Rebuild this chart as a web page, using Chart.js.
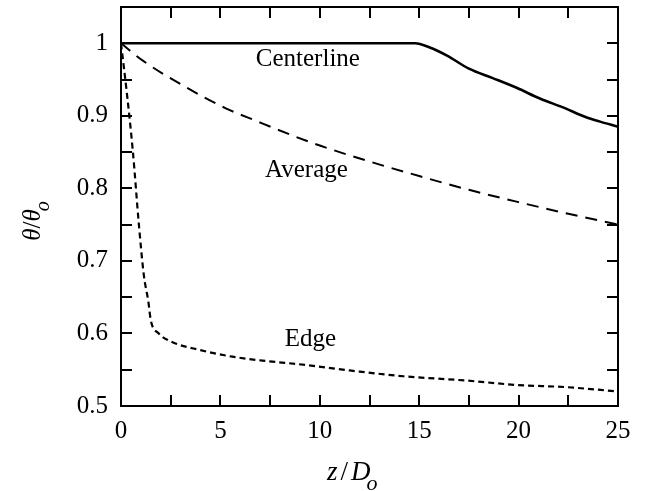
<!DOCTYPE html>
<html>
<head>
<meta charset="utf-8">
<script src="https://cdn.jsdelivr.net/npm/chart.js@4/dist/chart.umd.min.js"></script>
<style>
  html, body { margin: 0; padding: 0; background: #fff; }
  #c { display: block; }
</style>
</head>
<body>
<canvas id="c" width="645" height="491"></canvas>
<script>
// Dimensionless temperature theta/theta0 along the jet, z/Do
const centerlineZ     = [0, 5, 10, 14.0, 14.8, 15.5, 16.4, 17.5, 18.7, 19.9, 21.1, 22.2, 23.4, 24.1, 25];
const centerlineTheta = [1.0, 1.0, 1.0, 1.0, 1.0, 0.9945, 0.983, 0.965, 0.952, 0.9386, 0.9235, 0.912, 0.898, 0.892, 0.885];

const averageZ     = [0, 1.1, 3.1, 5.3, 6.8, 8.8, 10, 12.5, 15, 17.5, 20, 22.5, 25];
const averageTheta = [1.0, 0.976, 0.942, 0.910, 0.893, 0.871, 0.859, 0.837, 0.817, 0.798, 0.781, 0.765, 0.750];

const edgeZ     = [0, 0.3, 0.6, 0.9, 1.15, 1.37, 1.5, 1.9, 2.5, 4.0, 5.6, 7.3, 8.8, 11.5, 14.2, 17.4, 19.9, 22.4, 25];
const edgeTheta = [1.0, 0.93, 0.85, 0.75, 0.68, 0.645, 0.618, 0.600, 0.589, 0.577, 0.568, 0.562, 0.558, 0.549, 0.541, 0.535, 0.529, 0.526, 0.520];

// Tick labels shown on the axes
const xTickLabels = ['0', '5', '10', '15', '20', '25'];
const yTickLabels = ['0.5', '0.6', '0.7', '0.8', '0.9', '1'];

// Curve names written next to each curve
const curveNames = ['Centerline', 'Average', 'Edge'];
const curveNameAt = [[9.4, 0.978], [9.33, 0.8246], [9.53, 0.592]];

const pts = (xs, ys) => xs.map((x, i) => ({ x: x, y: ys[i] }));
const SERIF = '"Liberation Serif", "Times New Roman", serif';

// Frame, inward ticks on all four sides, curve names and axis titles
const decorations = {
  id: 'decorations',
  afterDraw(chart) {
    const { ctx, chartArea: a, scales: { x, y } } = chart;
    ctx.save();
    ctx.strokeStyle = '#000';
    ctx.lineWidth = 2;
    ctx.strokeRect(a.left, a.top, a.right - a.left, a.bottom - a.top);

    const len = 11;
    ctx.beginPath();
    for (let v = 2.5; v < 25; v += 2.5) {
      const px = Math.round(x.getPixelForValue(v));
      ctx.moveTo(px, a.bottom); ctx.lineTo(px, a.bottom - len);
      ctx.moveTo(px, a.top);    ctx.lineTo(px, a.top + len);
    }
    for (let k = 11; k <= 20; k++) {
      const py = Math.round(y.getPixelForValue(k * 0.05));
      ctx.moveTo(a.left, py);  ctx.lineTo(a.left + len, py);
      ctx.moveTo(a.right, py); ctx.lineTo(a.right - len, py);
    }
    ctx.stroke();

    // curve names
    ctx.fillStyle = '#000';
    ctx.font = '25px ' + SERIF;
    ctx.textAlign = 'center';
    ctx.textBaseline = 'middle';
    curveNames.forEach((name, i) => {
      ctx.fillText(name, x.getPixelForValue(curveNameAt[i][0]), y.getPixelForValue(curveNameAt[i][1]));
    });

    // x axis title: z / D_o
    ctx.textAlign = 'left';
    ctx.textBaseline = 'alphabetic';
    ctx.font = 'italic 27px ' + SERIF;
    let cx = 327, base = 480;
    ctx.fillText('z', cx, base);
    cx += ctx.measureText('z').width + 3;
    ctx.font = '27px ' + SERIF;
    ctx.fillText('/', cx, base);
    cx += ctx.measureText('/').width + 3;
    ctx.font = 'italic 27px ' + SERIF;
    ctx.fillText('D', cx, base);
    cx += ctx.measureText('D').width - 4;
    ctx.font = 'italic 22px ' + SERIF;
    ctx.fillText('o', cx, base + 10);

    // y axis title: theta / theta_o (rotated)
    ctx.save();
    ctx.translate(40, 221);
    ctx.rotate(-Math.PI / 2);
    ctx.font = 'italic 25px ' + SERIF;
    const w1 = ctx.measureText('θ').width;
    ctx.font = '25px ' + SERIF;
    const ws = ctx.measureText('/').width;
    ctx.font = 'italic 20px ' + SERIF;
    const wo = ctx.measureText('o').width;
    const total = w1 * 2 + ws + wo - 2;
    let tx = -total / 2;
    ctx.font = 'italic 25px ' + SERIF;
    ctx.fillText('θ', tx, 0); tx += w1;
    ctx.font = '25px ' + SERIF;
    ctx.fillText('/', tx, 0); tx += ws;
    ctx.font = 'italic 25px ' + SERIF;
    ctx.fillText('θ', tx, 0); tx += w1 - 2;
    ctx.font = 'italic 20px ' + SERIF;
    ctx.fillText('o', tx, 9);
    ctx.restore();

    ctx.restore();
  }
};

const whiteBg = {
  id: 'whiteBg',
  beforeDraw(chart) {
    const ctx = chart.ctx;
    ctx.save();
    ctx.fillStyle = '#fff';
    ctx.fillRect(0, 0, chart.width, chart.height);
    ctx.restore();
  }
};

new Chart(document.getElementById('c'), {
  type: 'line',
  data: {
    datasets: [
      { label: 'Centerline', data: pts(centerlineZ, centerlineTheta),
        borderColor: '#000', borderWidth: 2.6, cubicInterpolationMode: 'monotone' },
      { label: 'Average', data: pts(averageZ, averageTheta),
        borderColor: '#000', borderWidth: 2, borderDash: [12, 8], cubicInterpolationMode: 'monotone' },
      { label: 'Edge', data: pts(edgeZ, edgeTheta),
        borderColor: '#000', borderWidth: 2.2, borderDash: [6, 4], cubicInterpolationMode: 'monotone' }
    ]
  },
  options: {
    responsive: false,
    animation: false,
    devicePixelRatio: 1,
    layout: { padding: { left: 0, right: 27, top: 7, bottom: 0 } },
    elements: { point: { radius: 0 }, line: { fill: false } },
    plugins: { legend: { display: false }, tooltip: { enabled: false } },
    scales: {
      x: {
        type: 'linear', min: 0, max: 25,
        grid: { display: false, drawTicks: false },
        border: { display: false },
        afterFit(s) { s.height = 85; s.paddingLeft = 0; s.paddingRight = 0; },
        ticks: {
          stepSize: 2.5, padding: 10, color: '#000', maxRotation: 0, autoSkip: false,
          font: { family: SERIF, size: 25 },
          callback(v) {
            const i = Math.round(v * 10);
            return i % 50 === 0 ? xTickLabels[i / 50] : '';
          }
        }
      },
      y: {
        type: 'linear', min: 0.5, max: 1.05,
        grid: { display: false, drawTicks: false },
        border: { display: false },
        afterFit(s) { s.width = 121; s.paddingTop = 0; s.paddingBottom = 0; },
        ticks: {
          stepSize: 0.05, padding: 13, color: '#000', autoSkip: false,
          font: { family: SERIF, size: 25 },
          callback(v) {
            const i = Math.round(v * 100);
            return (i % 10 === 0 && i <= 100) ? yTickLabels[(i - 50) / 10] : '';
          }
        }
      }
    }
  },
  plugins: [whiteBg, decorations]
});
</script>
</body>
</html>
